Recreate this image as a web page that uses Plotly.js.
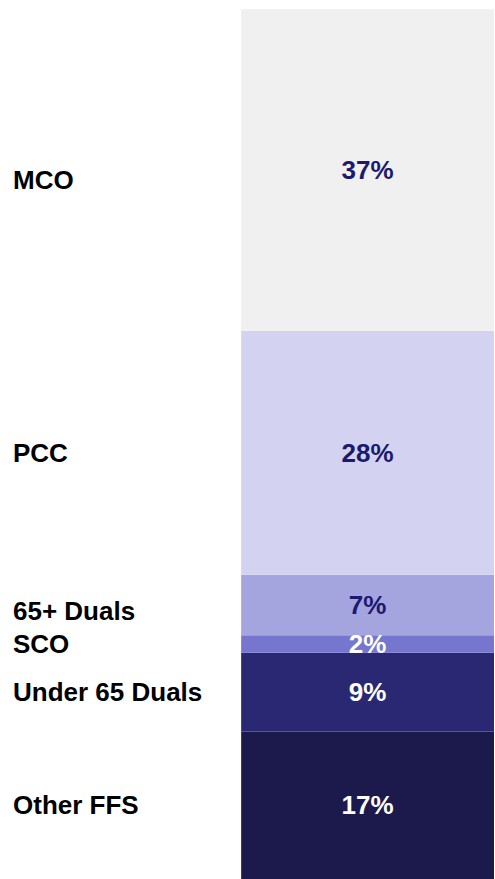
<!DOCTYPE html>
<html>
<head>
<meta charset="utf-8">
<script src="https://cdn.plot.ly/plotly-3.0.1.min.js"></script>
<style>html,body{margin:0;padding:0;background:#fff;}#chart{width:495px;height:879px;}</style>
</head>
<body>
<div id="chart"></div>
<script>
// Data (bottom to top)
const categories = ["Other FFS", "Under 65 Duals", "SCO", "65+ Duals", "PCC", "MCO"];
const shares = [17, 9, 2, 7, 28, 37];

const colors = ["#1c1a4c", "#2a2872", "#7676cf", "#a4a4df", "#d3d3f1", "#f0f0f0"];
const textColors = ["#ffffff", "#ffffff", "#ffffff", "#1b1a6e", "#1b1a6e", "#1b1a6e"];
const labelShift = {"MCO": -10, "65+ Duals": -6};

const FONT = "Liberation Sans, Arial, sans-serif";

const traces = categories.map((c, i) => ({
  type: "bar",
  x: ["Total"],
  y: [shares[i]],
  name: c,
  marker: {color: colors[i], line: {color: "rgba(255,255,255,0.3)", width: 0.5}},
  text: ["<b>" + shares[i] + "%</b>"],
  textposition: "inside",
  insidetextanchor: "middle",
  constraintext: "none",
  textfont: {family: FONT, size: 26, color: textColors[i]},
  hoverinfo: "skip"
}));

let cum = 0;
const annotations = categories.map((c, i) => {
  const mid = cum + shares[i] / 2;
  cum += shares[i];
  return {
    xref: "paper", yref: "y",
    x: -230 / 253, y: mid,
    xanchor: "left", yanchor: "middle",
    yshift: labelShift[c] || 0,
    text: "<b>" + c + "</b>",
    showarrow: false,
    font: {family: FONT, size: 26, color: "#000000"}
  };
});

const layout = {
  width: 495, height: 879,
  margin: {l: 241, r: 1, t: 9, b: 0, pad: 0},
  barmode: "stack",
  bargap: 0,
  showlegend: false,
  paper_bgcolor: "#ffffff",
  plot_bgcolor: "#ffffff",
  xaxis: {visible: false, range: [-0.5, 0.5], fixedrange: true},
  yaxis: {visible: false, range: [0, 100], fixedrange: true},
  annotations: annotations
};

Plotly.newPlot("chart", traces, layout, {displayModeBar: false, staticPlot: true});
</script>
</body>
</html>
